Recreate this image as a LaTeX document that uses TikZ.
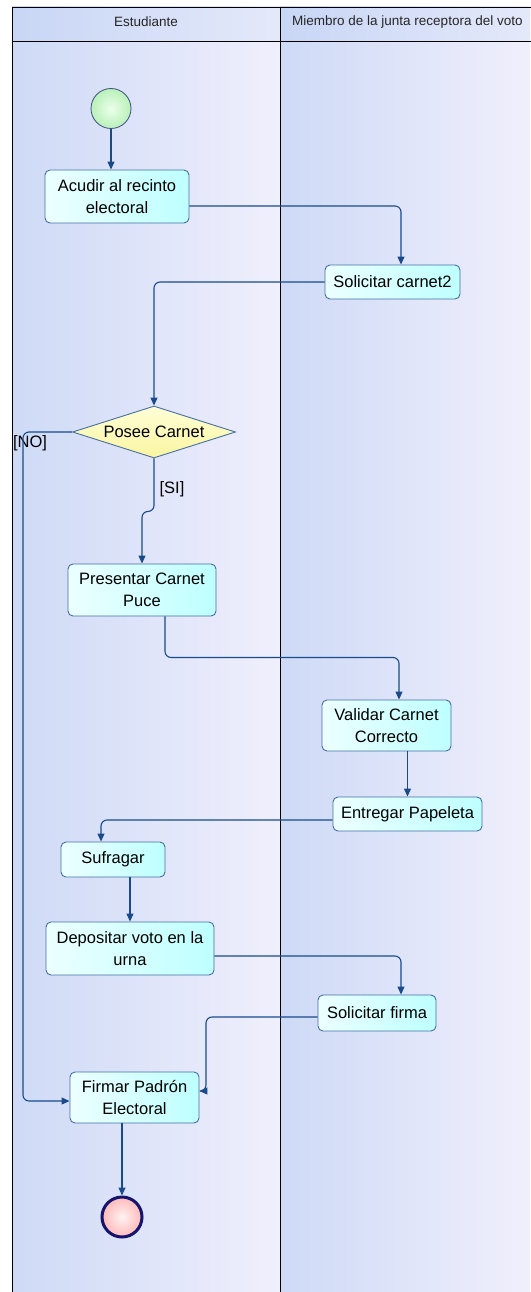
\documentclass[tikz,border=0pt]{standalone}
\usepackage{fontspec}
\setmainfont{Liberation Sans}
\usetikzlibrary{arrows.meta,shapes.geometric}
\definecolor{laneL}{RGB}{206,218,246}
\definecolor{laneR}{RGB}{240,239,252}
\definecolor{headL}{RGB}{200,214,245}
\definecolor{headR}{RGB}{228,233,250}
\definecolor{actB}{RGB}{70,110,165}
\definecolor{actL}{RGB}{236,255,255}
\definecolor{actR}{RGB}{190,255,255}
\definecolor{decT}{RGB}{255,255,215}
\definecolor{decB}{RGB}{250,245,160}
\definecolor{conC}{RGB}{25,75,140}
\definecolor{startB}{RGB}{60,80,130}
\definecolor{startI}{RGB}{235,255,235}
\definecolor{startO}{RGB}{185,240,185}
\definecolor{endB}{RGB}{20,20,110}
\definecolor{endI}{RGB}{255,242,242}
\definecolor{endO}{RGB}{255,185,185}
\tikzset{
  act/.style={draw=actB, line width=0.9pt, rounded corners=5pt, left color=actL, right color=actR,
    align=center, inner sep=0pt, font=\fontsize{16.5}{22}\selectfont},
  conn/.style={draw=conC, line width=1.1pt, rounded corners=6pt, -{Triangle[length=8pt,width=7pt]}},
  hdr/.style={font=\fontsize{13.5}{16}\selectfont, text=black!85, inner sep=0pt},
  lbl/.style={font=\fontsize{16.5}{20}\selectfont, inner sep=0pt},
  lanefill/.style={left color=laneL, right color=laneR},
  headfill/.style={left color=headL, right color=headR}
}
\begin{document}
\begin{tikzpicture}[x=1pt,y=-1pt]
\useasboundingbox (0,0) rectangle (530,1292);
% lanes
\fill[lanefill] (12,41) rectangle (280,1292);
\fill[lanefill] (280,41) rectangle (530,1292);
\fill[headfill] (12,7) rectangle (280,41);
\fill[headfill] (280,7) rectangle (530,41);
\draw[black, line width=0.9pt] (531,7) -- (12,7) -- (12,1293);
\draw[black, line width=0.9pt] (12,41) -- (531,41);
\draw[black, line width=0.9pt] (280,7) -- (280,1293);
\node[hdr] (h1) at (146,22) {Estudiante};
\node[hdr, anchor=west] (h2) at (292,22) {Miembro de la junta receptora del voto};

% nodes
\node[circle, draw=startB, line width=0.8pt, inner color=startI, outer color=startO,
      minimum size=40pt, inner sep=0pt] (start) at (111,108.5) {};
\node[act, minimum width=144pt, minimum height=53pt] (acudir) at (117,196.5) {Acudir al recinto\\electoral};
\node[act, minimum width=135pt, minimum height=34pt] (sol) at (392.5,282) {Solicitar carnet2};
\node[diamond, aspect=3.13, draw=actB, line width=0.9pt, top color=decT, bottom color=decB,
      minimum width=163pt, minimum height=52pt, inner sep=0pt,
      font=\fontsize{16.5}{22}\selectfont] (dec) at (154,432) {\makebox[0pt]{Posee Carnet}};
\node[act, minimum width=148pt, minimum height=52pt] (pres) at (142,590) {Presentar Carnet\\Puce};
\node[act, minimum width=129pt, minimum height=51pt] (val) at (386.5,725.5) {Validar Carnet\\Correcto};
\node[act, minimum width=149pt, minimum height=34pt] (ent) at (407.5,814) {Entregar Papeleta};
\node[act, minimum width=104pt, minimum height=35pt] (suf) at (113,859.5) {Sufragar};
\node[act, minimum width=168pt, minimum height=53pt] (dep) at (130,948.5) {Depositar voto en la\\urna};
\node[act, minimum width=118pt, minimum height=36pt] (sf) at (377,1013) {Solicitar firma};
\node[act, minimum width=129pt, minimum height=51pt] (fir) at (134.5,1097.5) {Firmar Padrón\\Electoral};
\node[circle, draw=endB, line width=3pt, inner color=endI, outer color=endO,
      minimum size=40pt, inner sep=0pt] (end) at (122,1217) {};

\node[lbl] (no) at (30,443) {[NO]};
\node[lbl] (si) at (172,489) {[SI]};

\coordinate (nobend) at (23,1101);
\coordinate (sfbend) at (206,1091);

% connectors
\draw[conn] (start) -- (start |- acudir.north);
\draw[conn] ([yshift=-9.5pt]acudir.east) -| ([xshift=8.5pt]sol.north);
\draw[conn] (sol.west) -| (dec.north);
\draw[conn] (dec.west) -| (nobend) -- ([yshift=-3.5pt]fir.west);
\draw[conn] (dec.south) -- ++(0,53) -| (pres.north);
\draw[conn] ([xshift=23pt]pres.south) -- ++(0,41) -| ([xshift=12.5pt]val.north);
\draw[conn] (val.south -| ent.north) -- (ent.north);
\draw[conn] ([yshift=-6pt]ent.west) -| ([xshift=-12pt]suf.north);
\draw[conn] (suf.south -| dep.north) -- (dep.north);
\draw[conn] ([yshift=-7.5pt]dep.east) -| ([xshift=24pt]sf.north);
\draw[conn] ([yshift=-4pt]sf.west) -| (sfbend) [sharp corners] -- ([yshift=6.5pt]fir.east);
\draw[conn] (end.north |- fir.south) -- (end.north);
\end{tikzpicture}
\end{document}
